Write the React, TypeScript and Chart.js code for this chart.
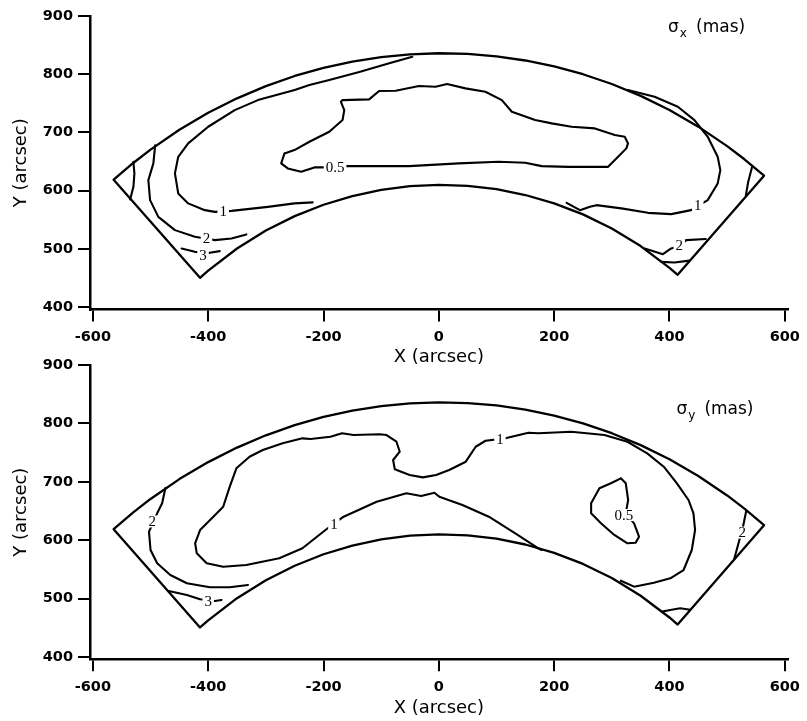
import React, { useEffect, useRef } from "react";
import { Chart, registerables } from "chart.js";

Chart.register(...registerables);

type P = [number, number];
type Lab = { x: number; y: number; t: string };

// ---------- axes ----------
const xTicks = [-600, -400, -200, 0, 200, 400, 600];
const yTicks = [400, 500, 600, 700, 800, 900];
const xRange: P = [-605, 605];
const yRange: P = [396, 900];
const xTitle = "X (arcsec)";
const yTitle = "Y (arcsec)";

// ---------- field boundary ----------
const outerArc: P[] = [
  [-564, 618.9], [-530, 647.6], [-500, 670.6], [-450, 704.6], [-400, 733.7], [-350, 758.6],
  [-300, 779.6], [-250, 797], [-200, 811], [-150, 821.8], [-100, 829.5], [-50, 834.2], [0, 836],
  [50, 834.8], [100, 830.7], [150, 823.6], [200, 813.4], [250, 800], [300, 783.2], [350, 762.8],
  [400, 738.5], [450, 710], [500, 676.6], [530, 654], [564, 625.7],
];
const innerArc: P[] = [
  [-414.2, 450.5], [-400, 462.8], [-350, 500.7], [-300, 531.5], [-250, 556.3], [-200, 575.9],
  [-150, 590.8], [-100, 601.4], [-50, 607.7], [0, 610], [50, 608.3], [100, 602.6], [150, 592.6],
  [200, 578.3], [250, 559.3], [300, 535.1], [350, 504.9], [400, 467.6], [414.2, 455.5],
];

// ---------- sigma_x contours ----------
const sxContour1Left: P[] = [
  [-46, 830], [-86, 818.7], [-138, 804], [-190, 790], [-224.5, 781.4], [-250, 772.8],
  [-313.8, 755.6], [-354, 738.4], [-400, 709.8], [-434.7, 681.2], [-452, 658.2], [-457.7, 629.7],
  [-452, 595.3], [-434.7, 578.2], [-405.8, 566.6], [-388.6, 563.7], [-359.7, 565.4],
  [-296.5, 572.3], [-250.4, 578.2], [-218.8, 579.9],
];
const sxContour1Right: P[] = [
  [221.6, 579.2], [244.7, 566.6], [262, 572.3], [273.4, 575.2], [316.6, 569.6], [362.7, 562],
  [403, 559.8], [437.5, 566.6], [466.3, 583.8], [483.6, 612.5], [488.2, 635.4], [483.6, 658.2],
  [466.3, 692.6], [443.3, 721.3], [414.5, 744.1], [374.2, 761.3], [328, 772.8],
];
const sxContour05: P[] = [
  [-267.7, 664], [-273.4, 646.9], [-262, 638.3], [-238.8, 632.5], [-215.9, 640], [-198.6, 640],
  [-164, 642.2], [-51.8, 642.2], [34.5, 646.9], [103.6, 649.6], [149.7, 647.9], [178.4, 642.2],
  [224.5, 641], [293.6, 641], [310.9, 658.2], [325.2, 672.7], [328.1, 681.2], [322.4, 692.6],
  [305.2, 695.5], [287.9, 701.2], [270.6, 707], [230.2, 709.8], [195.7, 715.6], [167, 721.3],
  [126.6, 735.5], [109.3, 755.6], [80.7, 769.9], [46.1, 775.7], [14.3, 783.1], [-5.7, 778.6],
  [-34.5, 779.7], [-74.8, 771.6], [-103.6, 771.1], [-120.9, 756.8], [-167, 755.6],
  [-169.8, 752.7], [-164, 738.4], [-167, 721.3], [-190, 701.2], [-224.5, 684], [-250.4, 669.7],
  [-267.7, 664],
];
const sxContour2Left: P[] = [
  [-492, 678], [-495.1, 646.9], [-503.8, 618.2], [-500.8, 583.8], [-486.5, 555.1],
  [-457.7, 532.3], [-423.1, 520.8], [-388.6, 515.1], [-359.7, 518], [-333.8, 524.9],
];
const sxContour3Left: P[] = [[-446.1, 500.8], [-423.1, 495], [-397.2, 493.3], [-380, 496.2]];
const sxCornerLeft: P[] = [[-529.7, 649.8], [-528, 629.7], [-529.7, 606.7], [-535.4, 585]];
const sxContour2Right: P[] = [
  [357, 500.8], [388.6, 491], [402.9, 500.8], [417.4, 504.8], [428.8, 515.1], [463, 517],
];
const sxCornerBottom: P[] = [[385.6, 477.8], [408.8, 476.8], [434.7, 480]];
const sxCornerRight: P[] = [[543, 640], [536.6, 615.3], [532.4, 592]];
const sxLabels: Lab[] = [
  { x: -180, y: 640, t: "0.5" },
  { x: -374, y: 565, t: "1" },
  { x: 449, y: 575, t: "1" },
  { x: -403, y: 518, t: "2" },
  { x: -409, y: 488, t: "3" },
  { x: 417, y: 505, t: "2" },
];
const sxTitle = { x: 397.6, y: 880, sym: "σ", sub: "x", unit: "(mas)" };

// ---------- sigma_y contours ----------
const syContour1: P[] = [
  [315.6, 530.6], [338.6, 520.4], [372.9, 527.2], [401.4, 534.7], [424.4, 548.9], [438.7, 583.2],
  [444.4, 617.4], [441.6, 646], [433, 668.8], [412.9, 697.4], [390.1, 725.8], [361.4, 748.7],
  [327.1, 768.6], [287.1, 780.1], [229.7, 785.7], [172.6, 783], [155.4, 784], [115.4, 774.4],
  [81, 770.3], [63.9, 760], [46.7, 734.4], [18, 720.1], [-4.8, 711.6], [-27.8, 707.6],
  [-50.7, 711.6], [-76.4, 721.3], [-79.3, 737.3], [-67.8, 751.5], [-73.5, 768.6], [-90.7, 780.1],
  [-102.2, 781.3], [-148, 780.1], [-167.9, 783], [-188, 777.2], [-222.4, 773.2], [-236.6, 774.4],
  [-270.9, 765.9], [-305.3, 754.4], [-328.3, 742.9], [-351.1, 723.1], [-362.6, 691.6],
  [-374, 657.3], [-391.1, 640.2], [-414.1, 617.4], [-422.7, 594.7], [-419.8, 577.5],
  [-402.6, 560.4], [-374, 554.6], [-334, 557.5], [-276.8, 569], [-236.6, 586.1], [-196.6, 617.4],
  [-165.2, 640.2], [-107.8, 665.9], [-56.3, 680.3], [-30.6, 675.6], [-7.7, 681.3], [0.9, 674.4],
  [40.9, 660.2], [86.7, 640.2], [132.6, 611.8], [172.6, 586.1], [178.2, 583.2],
];
const syContour05: P[] = [
  [315.6, 705.9], [324.2, 697.4], [328.3, 668.8], [324.2, 646], [338.6, 628.9], [347.2, 606],
  [341.3, 595.7], [327.1, 594.7], [304.3, 608.9], [281.2, 628.9], [264.1, 646], [264.1, 663.1],
  [278.5, 688.8], [298.4, 697.4], [315.6, 705.9],
];
const syContour2Left: P[] = [
  [-474.2, 689.5], [-479.9, 663.1], [-488.5, 646], [-502.7, 614.5], [-500, 583.2],
  [-488.5, 560.4], [-465.7, 540.4], [-437, 526.2], [-397, 519.3], [-362.6, 519.3], [-331, 523.3],
];
const syContour3Left: P[] = [
  [-468.4, 513], [-437, 506.1], [-414.1, 498.8], [-388.4, 495.9], [-376.9, 497.6],
];
const syContour2Right: P[] = [[533.1, 650], [527.5, 623.1], [518.9, 591.7], [512, 567]];
const syCornerBottom: P[] = [[387.2, 477.6], [401.4, 480.5], [418.6, 483.4], [436, 481]];
const syLabels: Lab[] = [
  { x: 106, y: 773, t: "1" },
  { x: -182, y: 626, t: "1" },
  { x: 321, y: 643, t: "0.5" },
  { x: -497, y: 632, t: "2" },
  { x: -400, y: 495, t: "3" },
  { x: 526, y: 613, t: "2" },
];
const syTitle = { x: 412, y: 823, sym: "σ", sub: "y", unit: "(mas)" };

const boundary: P[] = [...outerArc, ...[...innerArc].reverse(), outerArc[0]];

const textPlugin = {
  id: "contourText",
  afterDatasetsDraw(chart: any, _a: any, opts: any) {
    const { ctx } = chart;
    const xs = chart.scales.x;
    const ys = chart.scales.y;
    ctx.save();
    ctx.textAlign = "center";
    ctx.textBaseline = "middle";
    ctx.font = '15px "Liberation Serif"';
    for (const l of opts.labels as Lab[]) {
      const px = xs.getPixelForValue(l.x);
      const py = ys.getPixelForValue(l.y);
      const w = ctx.measureText(l.t).width;
      ctx.fillStyle = "#fff";
      ctx.fillRect(px - w / 2 - 2, py - 6, w + 4, 12);
      ctx.fillStyle = "#000";
      ctx.fillText(l.t, px, py + 0.5);
    }
    const s = opts.title;
    const sx = xs.getPixelForValue(s.x);
    const sy = ys.getPixelForValue(s.y);
    ctx.textAlign = "left";
    ctx.fillStyle = "#000";
    ctx.font = '17px "DejaVu Sans"';
    ctx.fillText(s.sym, sx, sy);
    const sw = ctx.measureText(s.sym).width;
    ctx.font = '12px "DejaVu Sans"';
    ctx.fillText(s.sub, sx + sw + 1, sy + 6);
    ctx.font = '17px "DejaVu Sans"';
    ctx.fillText(s.unit, sx + 28, sy);
    ctx.restore();
  },
};

const line = (pts: P[], w = 2.1) => ({
  data: pts.map(([x, y]) => ({ x, y })),
  showLine: true,
  pointRadius: 0,
  borderColor: "#000",
  borderWidth: w,
  tension: 0,
  fill: false,
  borderJoinStyle: "round",
  borderCapStyle: "round",
});

type PanelProps = {
  top: number;
  height: number;
  xAxisH: number;
  titlePad: number;
  contours: P[][];
  labels: Lab[];
  title: any;
};

function Panel({ top, height, xAxisH, titlePad, contours, labels, title }: PanelProps) {
  const ref = useRef<HTMLCanvasElement>(null);
  useEffect(() => {
    const grid = { drawOnChartArea: false, drawTicks: true, tickLength: 12, color: "#000", lineWidth: 2 };
    const border = { display: true, color: "#000", width: 2.5 };
    const tickFont = { family: "DejaVu Sans", size: 14.5, weight: "bold" };
    const titleFont = { family: "DejaVu Sans", size: 18 };
    const chart = new Chart(ref.current as HTMLCanvasElement, {
      type: "scatter",
      data: { datasets: [line(boundary, 2.3), ...contours.map((c) => line(c))] as any },
      options: {
        animation: false,
        responsive: false,
        devicePixelRatio: 1,
        layout: { padding: { top: 16, right: 17, left: 0, bottom: 0 } },
        plugins: {
          legend: { display: false },
          tooltip: { enabled: false },
          contourText: { labels, title },
        } as any,
        scales: {
          x: {
            type: "linear",
            min: xRange[0],
            max: xRange[1],
            grid,
            border,
            afterBuildTicks: (s: any) => {
              s.ticks = xTicks.map((v) => ({ value: v }));
            },
            afterFit: (s: any) => {
              s.height = xAxisH;
            },
            ticks: {
              color: "#000",
              padding: 7,
              autoSkip: false,
              maxRotation: 0,
              font: tickFont,
              callback: (v: any) => String(v),
            },
            title: {
              display: true,
              text: xTitle,
              color: "#000",
              font: titleFont,
              padding: { top: 0, bottom: titlePad },
            },
          },
          y: {
            type: "linear",
            min: yRange[0],
            max: yRange[1],
            grid,
            border,
            afterBuildTicks: (s: any) => {
              s.ticks = yTicks.map((v) => ({ value: v }));
            },
            afterFit: (s: any) => {
              s.width = 90;
            },
            ticks: {
              color: "#000",
              padding: 5,
              autoSkip: false,
              font: tickFont,
              callback: (v: any) => String(v),
            },
            title: {
              display: true,
              text: yTitle,
              color: "#000",
              font: titleFont,
              padding: { top: 11, bottom: 0 },
            },
          },
        } as any,
      },
      plugins: [textPlugin as any],
    });
    return () => chart.destroy();
  }, []);
  return (
    <canvas
      ref={ref}
      width={807}
      height={height}
      style={{ position: "absolute", left: 0, top, width: 807, height }}
    />
  );
}

export default function App() {
  return (
    <div style={{ position: "absolute", left: 0, top: 0, width: 807, height: 721, background: "#fff" }}>
      <Panel
        top={0}
        height={368}
        xAxisH={58.5}
        titlePad={0}
        contours={[
          sxContour1Left, sxContour1Right, sxContour05, sxContour2Left, sxContour3Left,
          sxCornerLeft, sxContour2Right, sxCornerBottom, sxCornerRight,
        ]}
        labels={sxLabels}
        title={sxTitle}
      />
      <Panel
        top={349}
        height={372}
        xAxisH={61.7}
        titlePad={2}
        contours={[
          syContour1, syContour05, syContour2Left, syContour3Left, syContour2Right, syCornerBottom,
        ]}
        labels={syLabels}
        title={syTitle}
      />
    </div>
  );
}
